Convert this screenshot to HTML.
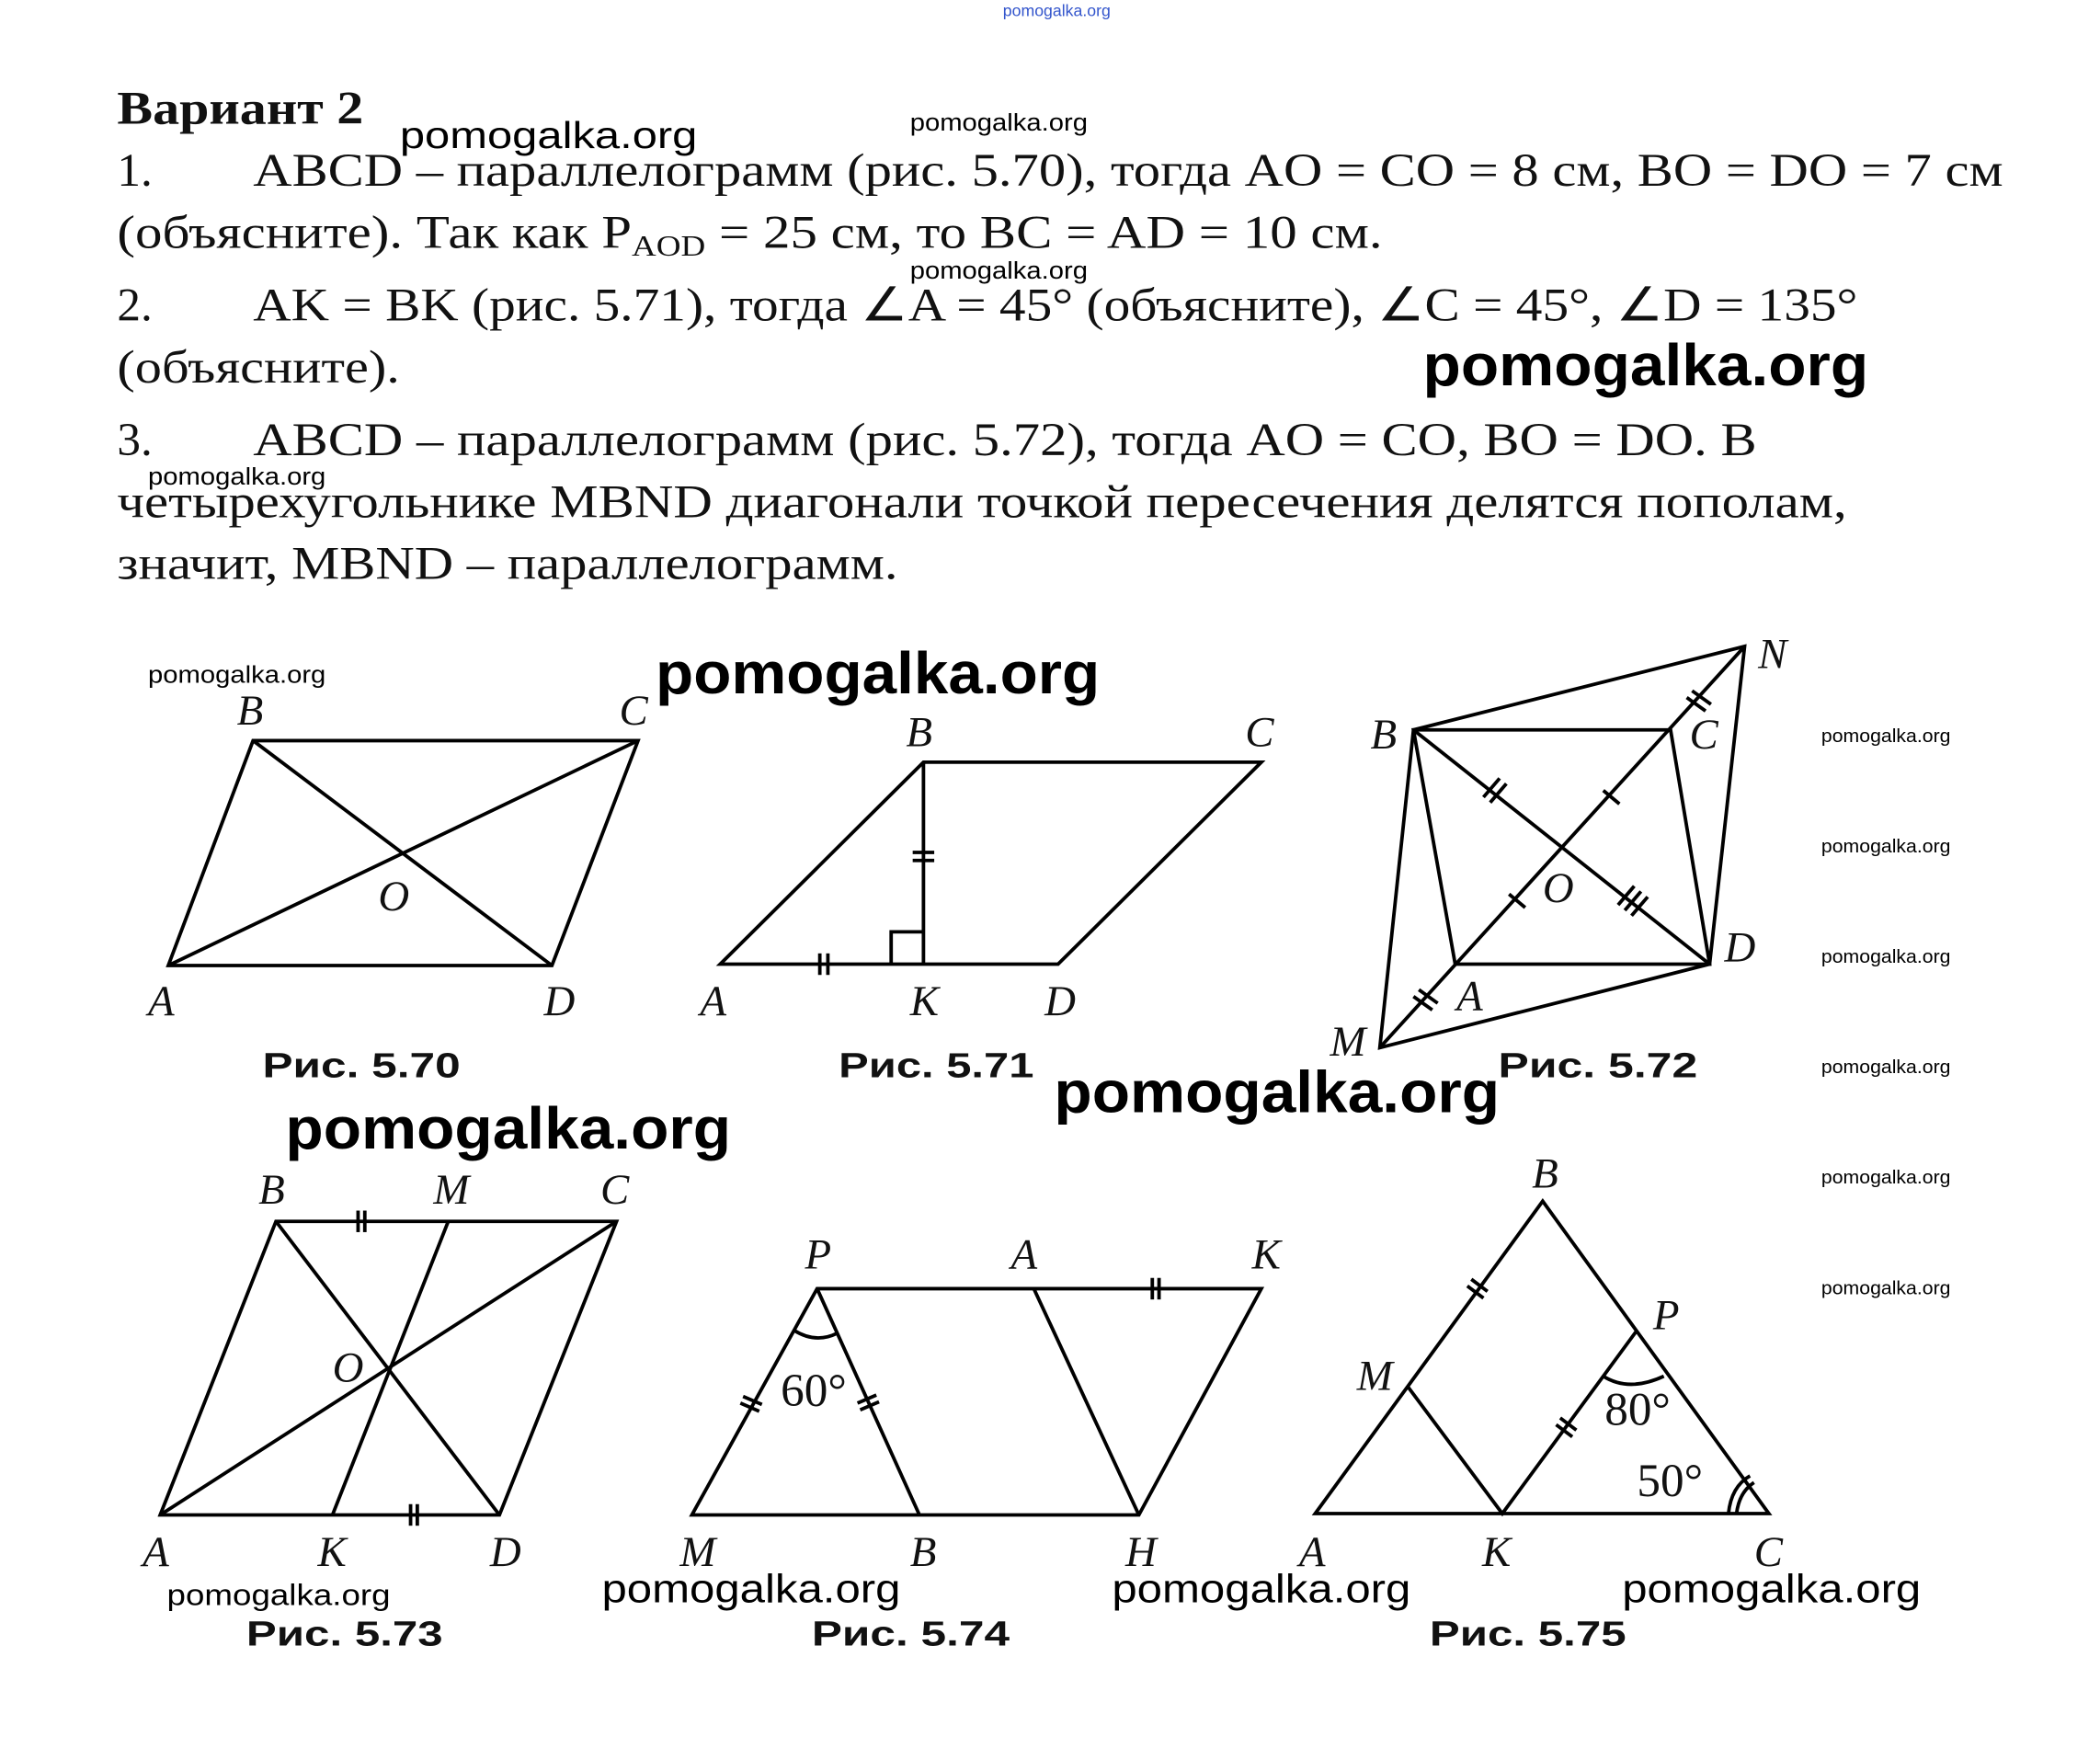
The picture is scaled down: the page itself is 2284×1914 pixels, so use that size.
<!DOCTYPE html>
<html><head><meta charset="utf-8"><style>
html,body{margin:0;padding:0;background:#fff}
svg{display:block}
.t{font-family:"Liberation Serif",serif;font-size:35px;fill:#111}
.l{font-family:"Liberation Serif",serif;font-style:italic;font-size:32px;fill:#111}
.c{font-family:"Liberation Sans",sans-serif;font-weight:bold;font-size:26px;fill:#111}
.w{font-family:"Liberation Sans",sans-serif;fill:#000}
line,polyline,polygon,path{stroke:#000;stroke-width:2.6;fill:none}
</style></head><body>
<svg width="2284" height="1914" viewBox="0 0 1560 1307" preserveAspectRatio="none" xmlns="http://www.w3.org/2000/svg">
<rect width="1560" height="1307" fill="#fff" style="stroke:none"/>
<text class="w" x="745" y="12" font-size="12" style="fill:#3355cc" textLength="80" lengthAdjust="spacingAndGlyphs">pomogalka.org</text>
<text class="t" x="87" y="92" font-weight="bold" font-size="36" textLength="183" lengthAdjust="spacingAndGlyphs">Вариант 2</text>
<text class="t" x="87" y="138">1.</text>
<text class="t" x="188" y="138" textLength="1300" lengthAdjust="spacingAndGlyphs">ABCD – параллелограмм (рис. 5.70), тогда AO = CO = 8 см, BO = DO = 7 см</text>
<text class="t" x="87" y="184" textLength="940" lengthAdjust="spacingAndGlyphs">(объясните). Так как P<tspan font-size="22" dy="6">AOD</tspan><tspan dy="-6"> = 25 см, то BC = AD = 10 см.</tspan></text>
<text class="t" x="87" y="238">2.</text>
<text class="t" x="188" y="238" textLength="1192" lengthAdjust="spacingAndGlyphs">AK = BK (рис. 5.71), тогда ∠A = 45° (объясните), ∠C = 45°, ∠D = 135°</text>
<text class="t" x="87" y="284" textLength="210" lengthAdjust="spacingAndGlyphs">(объясните).</text>
<text class="t" x="87" y="338">3.</text>
<text class="t" x="188" y="338" textLength="1117" lengthAdjust="spacingAndGlyphs">ABCD – параллелограмм (рис. 5.72), тогда AO = CO, BO = DO. В</text>
<text class="t" x="87" y="384" textLength="1285" lengthAdjust="spacingAndGlyphs">четырехугольнике MBND диагонали точкой пересечения делятся пополам,</text>
<text class="t" x="87" y="430" textLength="580" lengthAdjust="spacingAndGlyphs">значит, MBND – параллелограмм.</text>

<!-- 5.70 -->
<polygon points="125,717 188,550 474,550 410,717"/>
<line x1="125" y1="717" x2="474" y2="550"/><line x1="188" y1="550" x2="410" y2="717"/>
<text class="l" x="176" y="538">B</text><text class="l" x="460" y="538">C</text>
<text class="l" x="281" y="676">O</text><text class="l" x="110" y="754">A</text><text class="l" x="404" y="754">D</text>
<text class="c" x="195" y="800" textLength="147" lengthAdjust="spacingAndGlyphs">Рис. 5.70</text>

<!-- 5.71 -->
<polygon points="535,716 686,566 937,566 786,716"/>
<line x1="686" y1="566" x2="686" y2="716"/>
<polyline points="662,716 662,692 686,692"/>
<line x1="678" y1="633" x2="694" y2="633"/><line x1="678" y1="639" x2="694" y2="639"/>
<line x1="609" y1="708" x2="609" y2="724"/><line x1="615" y1="708" x2="615" y2="724"/>
<text class="l" x="673" y="554">B</text><text class="l" x="925" y="554">C</text>
<text class="l" x="520" y="754">A</text><text class="l" x="676" y="754">K</text><text class="l" x="776" y="754">D</text>
<text class="c" x="623" y="800" textLength="145" lengthAdjust="spacingAndGlyphs">Рис. 5.71</text>

<!-- 5.72 -->
<polygon points="1050,542 1296,480 1270,716 1025,778"/>
<polygon points="1050,542 1241,542 1270,716 1081,716"/>
<line x1="1025" y1="778" x2="1296" y2="480"/>
<line x1="1050" y1="542" x2="1270" y2="716"/>
<line x1="1102" y1="592" x2="1114" y2="578"/><line x1="1107" y1="596" x2="1119" y2="582"/>
<line x1="1207" y1="676" x2="1219" y2="662"/><line x1="1212" y1="680" x2="1224" y2="666"/><line x1="1202" y1="672" x2="1214" y2="658"/>
<line x1="1191" y1="587" x2="1203" y2="597"/><line x1="1121" y1="664" x2="1133" y2="674"/>
<line x1="1253" y1="518" x2="1267" y2="528"/><line x1="1257" y1="513" x2="1271" y2="523"/>
<line x1="1050" y1="740" x2="1064" y2="750"/><line x1="1054" y1="735" x2="1068" y2="745"/>
<text class="l" x="1018" y="556">B</text><text class="l" x="1255" y="556">C</text>
<text class="l" x="1306" y="496">N</text><text class="l" x="1146" y="670">O</text>
<text class="l" x="1281" y="714">D</text><text class="l" x="1082" y="750">A</text><text class="l" x="988" y="784">M</text>
<text class="c" x="1113" y="800" textLength="148" lengthAdjust="spacingAndGlyphs">Рис. 5.72</text>

<!-- 5.73 -->
<polygon points="119,1125 205,907 458,907 371,1125"/>
<line x1="119" y1="1125" x2="458" y2="907"/><line x1="205" y1="907" x2="371" y2="1125"/>
<line x1="333" y1="907" x2="247" y2="1125"/>
<line x1="266" y1="899" x2="266" y2="915"/><line x1="271" y1="899" x2="271" y2="915"/>
<line x1="305" y1="1117" x2="305" y2="1133"/><line x1="310" y1="1117" x2="310" y2="1133"/>
<text class="l" x="192" y="894">B</text><text class="l" x="322" y="894">M</text><text class="l" x="446" y="894">C</text>
<text class="l" x="247" y="1026">O</text><text class="l" x="106" y="1163">A</text><text class="l" x="236" y="1163">K</text><text class="l" x="364" y="1163">D</text>
<text class="c" x="183" y="1222" textLength="146" lengthAdjust="spacingAndGlyphs">Рис. 5.73</text>

<!-- 5.74 -->
<polygon points="514,1125 607,957 937,957 846,1125"/>
<line x1="607" y1="957" x2="683" y2="1125"/><line x1="768" y1="957" x2="846" y2="1125"/>
<path d="M590,988 Q606,998 622,990"/>
<line x1="550" y1="1042" x2="564" y2="1048"/><line x1="552" y1="1037" x2="566" y2="1043"/>
<line x1="639" y1="1047" x2="653" y2="1041"/><line x1="637" y1="1042" x2="651" y2="1036"/>
<line x1="856" y1="949" x2="856" y2="965"/><line x1="861" y1="949" x2="861" y2="965"/>
<text class="t" x="580" y="1044" font-size="30">60°</text>
<text class="l" x="598" y="942">P</text><text class="l" x="751" y="942">A</text><text class="l" x="930" y="942">K</text>
<text class="l" x="505" y="1163">M</text><text class="l" x="676" y="1163">B</text><text class="l" x="836" y="1163">H</text>
<text class="c" x="603" y="1222" textLength="147" lengthAdjust="spacingAndGlyphs">Рис. 5.74</text>

<!-- 5.75 -->
<polygon points="977,1124 1146,892 1314,1124"/>
<polyline points="1046,1030 1116,1124 1216,988"/>
<path d="M1191,1022 Q1210,1034 1236,1022"/>
<path d="M1284,1124 Q1286,1104 1300,1096"/><path d="M1290,1124 Q1292,1108 1303,1101"/>
<line x1="1090" y1="955" x2="1102" y2="964"/><line x1="1093" y1="950" x2="1105" y2="959"/>
<line x1="1156" y1="1058" x2="1168" y2="1067"/><line x1="1159" y1="1053" x2="1171" y2="1062"/>
<text class="t" x="1192" y="1058" font-size="30">80°</text>
<text class="t" x="1216" y="1111" font-size="30">50°</text>
<text class="l" x="1138" y="882">B</text><text class="l" x="1228" y="987">P</text><text class="l" x="1008" y="1032">M</text>
<text class="l" x="965" y="1163">A</text><text class="l" x="1101" y="1163">K</text><text class="l" x="1303" y="1163">C</text>
<text class="c" x="1062" y="1222" textLength="146" lengthAdjust="spacingAndGlyphs">Рис. 5.75</text>

<!-- watermarks -->
<text class="w" x="297" y="110" font-size="28" textLength="221" lengthAdjust="spacingAndGlyphs">pomogalka.org</text>
<text class="w" x="676" y="97" font-size="18" textLength="132" lengthAdjust="spacingAndGlyphs">pomogalka.org</text>
<text class="w" x="676" y="207" font-size="18" textLength="132" lengthAdjust="spacingAndGlyphs">pomogalka.org</text>
<text class="w" x="1057" y="286" font-size="44" font-weight="bold" textLength="331" lengthAdjust="spacingAndGlyphs">pomogalka.org</text>
<text class="w" x="110" y="360" font-size="18" textLength="132" lengthAdjust="spacingAndGlyphs">pomogalka.org</text>
<text class="w" x="110" y="507" font-size="18" textLength="132" lengthAdjust="spacingAndGlyphs">pomogalka.org</text>
<text class="w" x="487" y="515" font-size="44" font-weight="bold" textLength="330" lengthAdjust="spacingAndGlyphs">pomogalka.org</text>
<text class="w" x="1353" y="551" font-size="14" textLength="96" lengthAdjust="spacingAndGlyphs">pomogalka.org</text>
<text class="w" x="1353" y="633" font-size="14" textLength="96" lengthAdjust="spacingAndGlyphs">pomogalka.org</text>
<text class="w" x="1353" y="715" font-size="14" textLength="96" lengthAdjust="spacingAndGlyphs">pomogalka.org</text>
<text class="w" x="1353" y="797" font-size="14" textLength="96" lengthAdjust="spacingAndGlyphs">pomogalka.org</text>
<text class="w" x="1353" y="879" font-size="14" textLength="96" lengthAdjust="spacingAndGlyphs">pomogalka.org</text>
<text class="w" x="1353" y="961" font-size="14" textLength="96" lengthAdjust="spacingAndGlyphs">pomogalka.org</text>
<text class="w" x="783" y="826" font-size="44" font-weight="bold" textLength="331" lengthAdjust="spacingAndGlyphs">pomogalka.org</text>
<text class="w" x="212" y="853" font-size="44" font-weight="bold" textLength="331" lengthAdjust="spacingAndGlyphs">pomogalka.org</text>
<text class="w" x="124" y="1192" font-size="22" textLength="166" lengthAdjust="spacingAndGlyphs">pomogalka.org</text>
<text class="w" x="447" y="1190" font-size="30" textLength="222" lengthAdjust="spacingAndGlyphs">pomogalka.org</text>
<text class="w" x="826" y="1190" font-size="30" textLength="222" lengthAdjust="spacingAndGlyphs">pomogalka.org</text>
<text class="w" x="1205" y="1190" font-size="30" textLength="222" lengthAdjust="spacingAndGlyphs">pomogalka.org</text>
</svg>
</body></html>
